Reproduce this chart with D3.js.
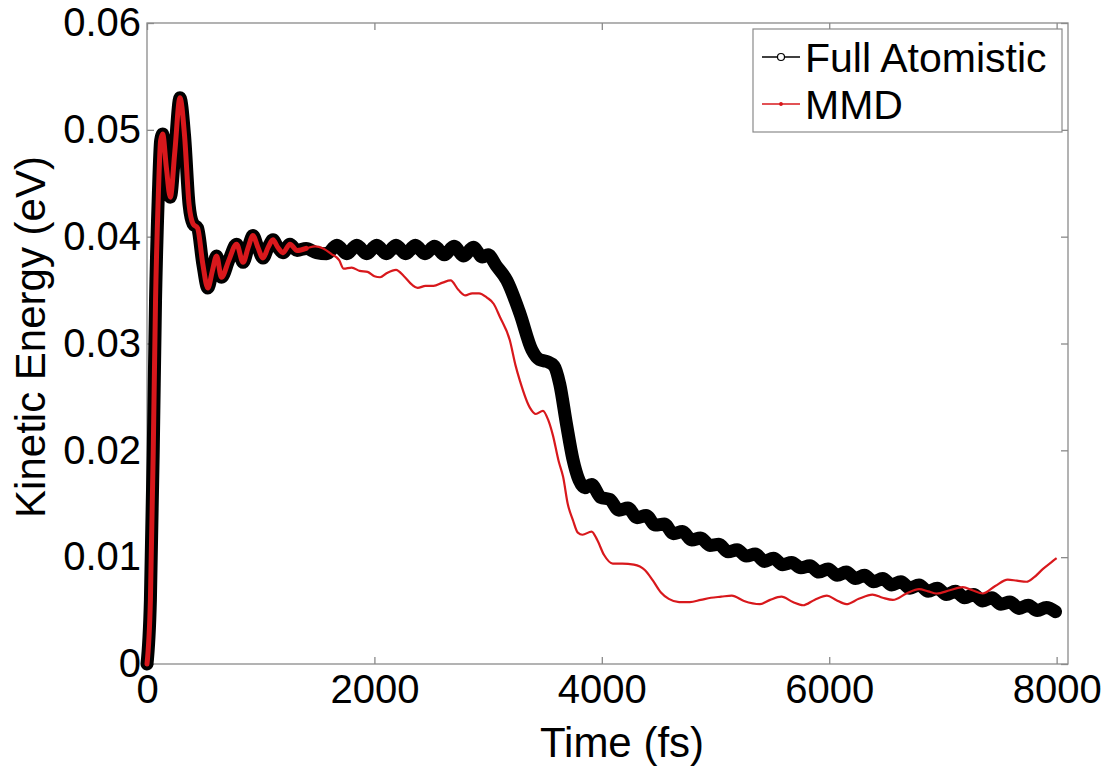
<!DOCTYPE html>
<html>
<head>
<meta charset="utf-8">
<script src="https://cdn.jsdelivr.net/npm/d3@7"></script>
<style>
  body { margin: 0; background: #fff; }
  svg text { font-family: "Liberation Sans", Arial, sans-serif; fill: #000; }
</style>
</head>
<body>
<div id="chart"></div>
<script>
// time (fs) / kinetic energy (eV)
const atomTime = [0, 30, 55, 75, 100, 120, 138, 170, 205, 245, 290, 330, 370, 405, 445, 490, 535, 575, 612, 655, 720, 788, 845, 890, 932, 975, 1020, 1065, 1108, 1150, 1196, 1257, 1320, 1400,
  1490, 1580, 1670, 1757, 1845, 1932, 2020, 2105, 2190, 2275, 2360, 2445, 2530, 2615, 2700, 2785, 2870, 2950, 3000,
  3070, 3165, 3280, 3385, 3450, 3520, 3580, 3630, 3690, 3745, 3800, 3850, 3910,
  3990, 4070, 4150, 4230, 4310, 4390, 4470, 4550, 4630, 4710, 4790, 4870, 4950, 5030, 5110, 5190, 5270, 5350, 5430, 5510,
  5590, 5670, 5750, 5830, 5910, 5990, 6070, 6150, 6230, 6310, 6390, 6470, 6550, 6630, 6710, 6790, 6870, 6950, 7030, 7110,
  7190, 7270, 7350, 7430, 7510, 7590, 7670, 7750, 7830, 7910, 7990];
const atomEnergy = [0, 0.006, 0.020, 0.034, 0.044, 0.049, 0.0496, 0.0465, 0.0437, 0.0480, 0.0530, 0.0495, 0.0430, 0.0412, 0.0408, 0.0375, 0.0352, 0.0368, 0.0382, 0.0362, 0.0378, 0.0393, 0.0376, 0.0390, 0.0401, 0.0390, 0.0380, 0.0390, 0.0397, 0.0390, 0.0385, 0.0393, 0.0387, 0.0389,
  0.0385, 0.0384, 0.0392, 0.0384, 0.0392, 0.0384, 0.0392, 0.0384, 0.0392, 0.0384, 0.0392, 0.0384, 0.0391, 0.0383, 0.0391, 0.0382, 0.0390, 0.0381, 0.0383,
  0.0373, 0.0359, 0.0328, 0.0294, 0.0285, 0.0283, 0.0279, 0.0262, 0.0224, 0.0192, 0.0172, 0.0165, 0.0168,
  0.0156, 0.0154, 0.0144, 0.0146, 0.0137, 0.0139, 0.0130, 0.0131, 0.0122, 0.0124, 0.0116, 0.0118, 0.0111, 0.0112, 0.0105, 0.0107, 0.0101, 0.0103, 0.0096, 0.0099,
  0.0093, 0.0095, 0.0090, 0.0092, 0.0086, 0.0089, 0.0083, 0.0086, 0.0080, 0.0083, 0.0077, 0.0080, 0.0074, 0.0077, 0.0071, 0.0074, 0.0068, 0.0071, 0.0065, 0.0068,
  0.0062, 0.0065, 0.0059, 0.0062, 0.0056, 0.0058, 0.0052, 0.0055, 0.0050, 0.0053, 0.0049];

const mmdTime = [0, 30, 55, 75, 100, 120, 138, 170, 205, 245, 290, 330, 370, 405, 445, 490, 535, 575, 612, 655, 720, 788, 845, 890, 932, 975, 1020, 1065, 1108, 1150, 1196, 1257, 1320, 1400,
  1480, 1550, 1620, 1690, 1730, 1800, 1870, 1940, 2000, 2050, 2110, 2190, 2260, 2330, 2380, 2450, 2520, 2600, 2670, 2740, 2800, 2860, 2920, 2990,
  3050, 3103, 3191, 3240, 3280, 3367, 3420, 3482, 3530, 3570, 3620, 3660, 3700, 3745, 3789, 3830, 3910, 3960, 4020, 4097, 4180, 4282, 4378, 4450, 4520, 4589,
  4680, 4774, 4870, 4960, 5050, 5143, 5250, 5390, 5480, 5580, 5680, 5770, 5870, 5980, 6060, 6150, 6260, 6380, 6470, 6560, 6680, 6790, 6870, 6945,
  7060, 7175, 7260, 7350, 7460, 7570, 7650, 7735, 7800, 7880, 7950, 8000];
const mmdEnergy = [0, 0.006, 0.020, 0.034, 0.044, 0.049, 0.0496, 0.0465, 0.0437, 0.0480, 0.0530, 0.0495, 0.0430, 0.0412, 0.0408, 0.0375, 0.0352, 0.0368, 0.0382, 0.0362, 0.0378, 0.0393, 0.0376, 0.0390, 0.0401, 0.0390, 0.0380, 0.0390, 0.0397, 0.0390, 0.0385, 0.0393, 0.0387, 0.0389,
  0.0391, 0.0389, 0.0384, 0.0378, 0.0370, 0.0371, 0.0368, 0.0367, 0.0363, 0.0362, 0.0366, 0.0369, 0.0363, 0.0355, 0.0352, 0.0354, 0.0354, 0.0357, 0.0359, 0.0350, 0.0345, 0.0347, 0.0347, 0.0343,
  0.0337, 0.0325, 0.0303, 0.0280, 0.0265, 0.0240, 0.0234, 0.0237, 0.0228, 0.0214, 0.0190, 0.0175, 0.0150, 0.0135, 0.0123, 0.0121, 0.0124, 0.0116, 0.0102, 0.0094, 0.0094, 0.0093, 0.0088, 0.0078, 0.0067, 0.0061,
  0.0058, 0.0058, 0.0060, 0.0062, 0.0063, 0.0064, 0.0059, 0.0056, 0.0060, 0.0063, 0.0058, 0.0055, 0.0060, 0.0064, 0.0060, 0.0056, 0.0061, 0.0065, 0.0062, 0.0060, 0.0066, 0.0070, 0.0068, 0.0066,
  0.0069, 0.0072, 0.0069, 0.0066, 0.0073, 0.0079, 0.0078, 0.0077, 0.0081, 0.0089, 0.0095, 0.0099];

const xTicks = [0, 2000, 4000, 6000, 8000];
const yTicks = [0, 0.01, 0.02, 0.03, 0.04, 0.05, 0.06];
const seriesNames = ['Full Atomistic', 'MMD'];

const width = 1109;
const height = 772;
const margin = {top: 23, right: 41, bottom: 108, left: 147};
const red = '#d8181c';

drawChart();

function drawChart() {
    const svg = d3.select('#chart')
        .append('svg')
        .attr('width', width)
        .attr('height', height);

    const x = d3.scaleLinear().domain([0, 8100]).range([margin.left, width - margin.right]);
    const y = d3.scaleLinear().domain([0, 0.06]).range([height - margin.bottom, margin.top]);

    const atom = atomTime.map((t, i) => ({t: t, e: atomEnergy[i]}));
    const mmd = mmdTime.map((t, i) => ({t: t, e: mmdEnergy[i]}));

    const line = d3.line()
        .x(d => x(d.t))
        .y(d => y(d.e))
        .curve(d3.curveMonotoneX);

    // frame
    svg.append('rect')
        .attr('x', x.range()[0])
        .attr('y', y.range()[1])
        .attr('width', x.range()[1] - x.range()[0])
        .attr('height', y.range()[0] - y.range()[1])
        .attr('fill', 'none')
        .attr('stroke', '#8a8a8a')
        .attr('stroke-width', 1.3);

    // axes, ticks pointing inward (matlab style)
    const tickLen = 7;
    const bottom = svg.append('g')
        .attr('transform', `translate(0,${y.range()[0]})`)
        .call(d3.axisBottom(x).tickValues(xTicks).tickSizeInner(-tickLen).tickSizeOuter(0).tickPadding(11).tickFormat(d3.format('d')));
    const top = svg.append('g')
        .attr('transform', `translate(0,${y.range()[1]})`)
        .call(d3.axisTop(x).tickValues(xTicks).tickSizeInner(-tickLen).tickSizeOuter(0).tickFormat(''));
    const left = svg.append('g')
        .attr('transform', `translate(${x.range()[0]},0)`)
        .call(d3.axisLeft(y).tickValues(yTicks).tickSizeInner(-tickLen).tickSizeOuter(0).tickPadding(6).tickFormat(d => d === 0 ? '0' : d3.format('.2f')(d)));
    const right = svg.append('g')
        .attr('transform', `translate(${x.range()[1]},0)`)
        .call(d3.axisRight(y).tickValues(yTicks).tickSizeInner(-tickLen).tickSizeOuter(0).tickFormat(''));

    [bottom, top, left, right].forEach(g => {
        g.select('.domain').remove();
        g.selectAll('.tick line').attr('stroke', '#8a8a8a').attr('stroke-width', 1.3);
        g.selectAll('.tick text')
            .attr('font-size', '40px')
            .attr('font-family', '"Liberation Sans", Arial, sans-serif')
            .attr('fill', '#000');
    });

    // series
    svg.append('path')
        .datum(atom)
        .attr('d', line)
        .attr('fill', 'none')
        .attr('stroke', '#000')
        .attr('stroke-width', 13)
        .attr('stroke-linejoin', 'round')
        .attr('stroke-linecap', 'round');

    svg.append('path')
        .datum(mmd)
        .attr('d', line)
        .attr('fill', 'none')
        .attr('stroke', red)
        .attr('stroke-width', 2.2)
        .attr('stroke-linejoin', 'round');

    // dense dot markers make the early part of MMD look heavier
    svg.append('path')
        .datum(mmd.filter(d => d.t <= 1450))
        .attr('d', line)
        .attr('fill', 'none')
        .attr('stroke', red)
        .attr('stroke-width', 5)
        .attr('stroke-linejoin', 'round')
        .attr('stroke-linecap', 'round');

    // axis titles
    svg.append('text')
        .attr('x', 622)
        .attr('y', 757)
        .attr('text-anchor', 'middle')
        .attr('font-size', '42px')
        .text('Time (fs)');

    svg.append('text')
        .attr('transform', `translate(45,337) rotate(-90)`)
        .attr('text-anchor', 'middle')
        .attr('font-size', '42px')
        .text('Kinetic Energy (eV)');

    // legend
    const legend = svg.append('g');
    legend.append('rect')
        .attr('x', 753).attr('y', 29)
        .attr('width', 309).attr('height', 103)
        .attr('fill', '#fff')
        .attr('stroke', '#8a8a8a')
        .attr('stroke-width', 1.2);

    const rows = legend.selectAll('g.row')
        .data(seriesNames)
        .enter()
        .append('g')
        .attr('class', 'row')
        .attr('transform', (d, i) => `translate(0,${57 + i * 47})`);

    rows.append('line')
        .attr('x1', 762).attr('x2', 800)
        .attr('stroke', (d, i) => i === 0 ? '#000' : red)
        .attr('stroke-width', 1.5);

    rows.append('circle')
        .attr('cx', 781)
        .attr('r', (d, i) => i === 0 ? 3.5 : 1.3)
        .attr('fill', (d, i) => i === 0 ? '#fff' : red)
        .attr('stroke', (d, i) => i === 0 ? '#000' : red)
        .attr('stroke-width', 1.2);

    rows.append('text')
        .attr('x', 805)
        .attr('y', 15)
        .attr('font-size', '41px')
        .text(d => d);
}
</script>
</body>
</html>
